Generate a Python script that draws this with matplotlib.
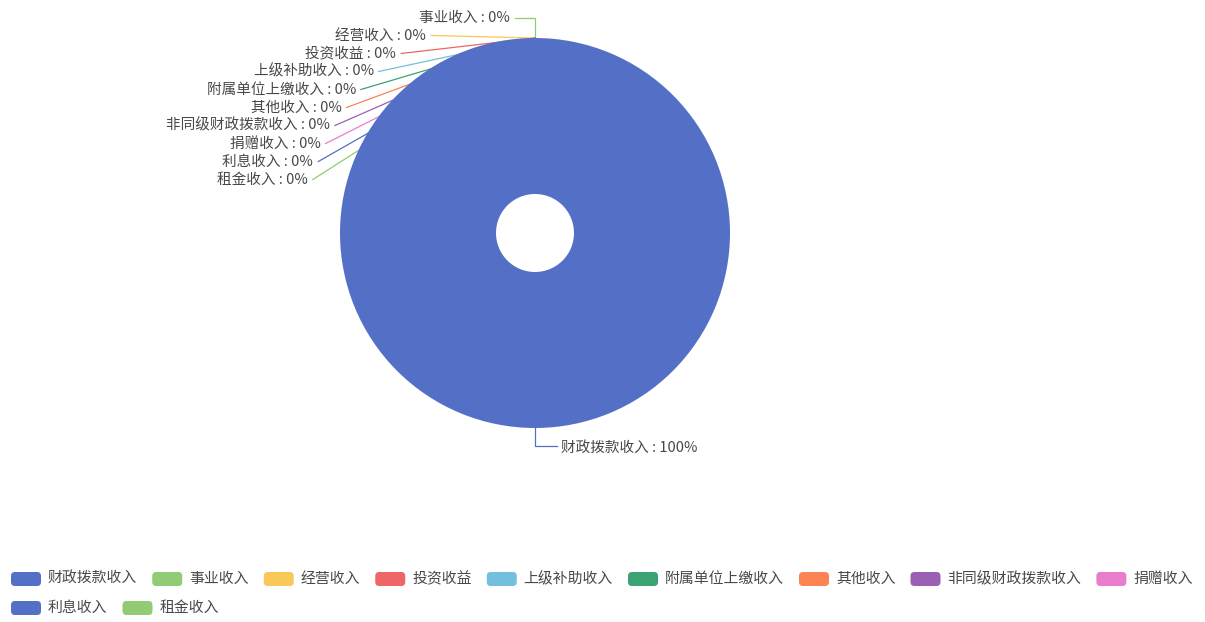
import matplotlib
matplotlib.use('Agg')
import numpy as np
import matplotlib.pyplot as plt
from matplotlib.patches import FancyBboxPatch

plt.rcParams['font.family'] = ['Noto Sans CJK SC', 'DejaVu Sans']

categories = ['财政拨款收入', '事业收入', '经营收入', '投资收益', '上级补助收入',
              '附属单位上缴收入', '其他收入', '非同级财政拨款收入', '捐赠收入',
              '利息收入', '租金收入']
values = [1250.0, 0, 0, 0, 0, 0, 0, 0, 0, 0, 0]
colors = ['#5470c6', '#91cc75', '#fac858', '#ee6666', '#73c0de', '#3ba272',
          '#fc8452', '#9a60b4', '#ea7ccc', '#5470c6', '#91cc75']

W, H = 1205, 622
fig = plt.figure(figsize=(W / 100, H / 100), dpi=100)
fig.patch.set_facecolor('white')
ax = fig.add_axes([0, 0, 1, 1])

# donut, pixel coords (y down)
cx, cy, r_out, r_in = 535, 233, 195, 39
wedges, _ = ax.pie(values, colors=colors, radius=r_out, center=(cx, cy),
                   startangle=-90, counterclock=True, normalize=True,
                   wedgeprops=dict(width=r_out - r_in, linewidth=0))
for w in wedges:
    w.set_zorder(2)
ax.set_xlim(0, W)
ax.set_ylim(H, 0)
ax.set_aspect('equal')
ax.axis('off')

txt_color = '#484848'
fs = 10.5
fs_leg = 10.7
total = sum(values)
pct = [round(v / total * 100) for v in values]

# stacked labels for the empty slices sit on an ellipse left of the pie
a_lab, b_lab = 234, 223
row0, step = 17.5, 18
k = 0
for i, w in enumerate(wedges):
    mid = np.deg2rad((w.theta1 + w.theta2) / 2)
    ex, ey = cx + r_out * np.cos(mid), cy + r_out * np.sin(mid)
    label = f'{categories[i]} : {pct[i]}%'
    if values[i] > 0:
        ly = ey + 18
        ax.plot([ex, ex, ex + 22], [ey, ly, ly], color=colors[i], lw=0.9, zorder=1)
        ax.text(ex + 26, ly + 1.5, label, fontsize=fs, color=txt_color, va='center', ha='left')
        continue
    ly = row0 + k * step
    if k == 0:
        x_end = ex - 25
        ax.plot([ex, ex, x_end + 5], [ey, ly, ly], color=colors[i], lw=0.9, zorder=1)
    else:
        dy = cy - ly
        x_end = cx - a_lab * np.sqrt(max(0.0, 1 - (dy / b_lab) ** 2))
        ax.plot([x_end + 5, ex], [ly, ey], color=colors[i], lw=0.9, zorder=1)
    ax.text(x_end, ly, label, fontsize=fs, color=txt_color, va='center', ha='right')
    k += 1

# legend, flowing left to right like the original
fig.canvas.draw()
renderer = fig.canvas.get_renderer()
lx, ly = 11, 579
box_w, box_h = 30, 14
for i, name in enumerate(categories):
    t = ax.text(0, 0, name, fontsize=fs_leg, color=txt_color, va='center', ha='left')
    tw = t.get_window_extent(renderer).width
    item_w = box_w + 7 + tw
    if lx + item_w > W - 5:
        lx = 11
        ly += 29
    ax.add_patch(FancyBboxPatch((lx, ly - box_h / 2), box_w, box_h,
                                boxstyle='round,pad=0,rounding_size=4',
                                fc=colors[i], ec='none'))
    t.set_position((lx + box_w + 7, ly))
    lx += item_w + 15

fig.savefig('out.png', dpi=100, facecolor='white')
